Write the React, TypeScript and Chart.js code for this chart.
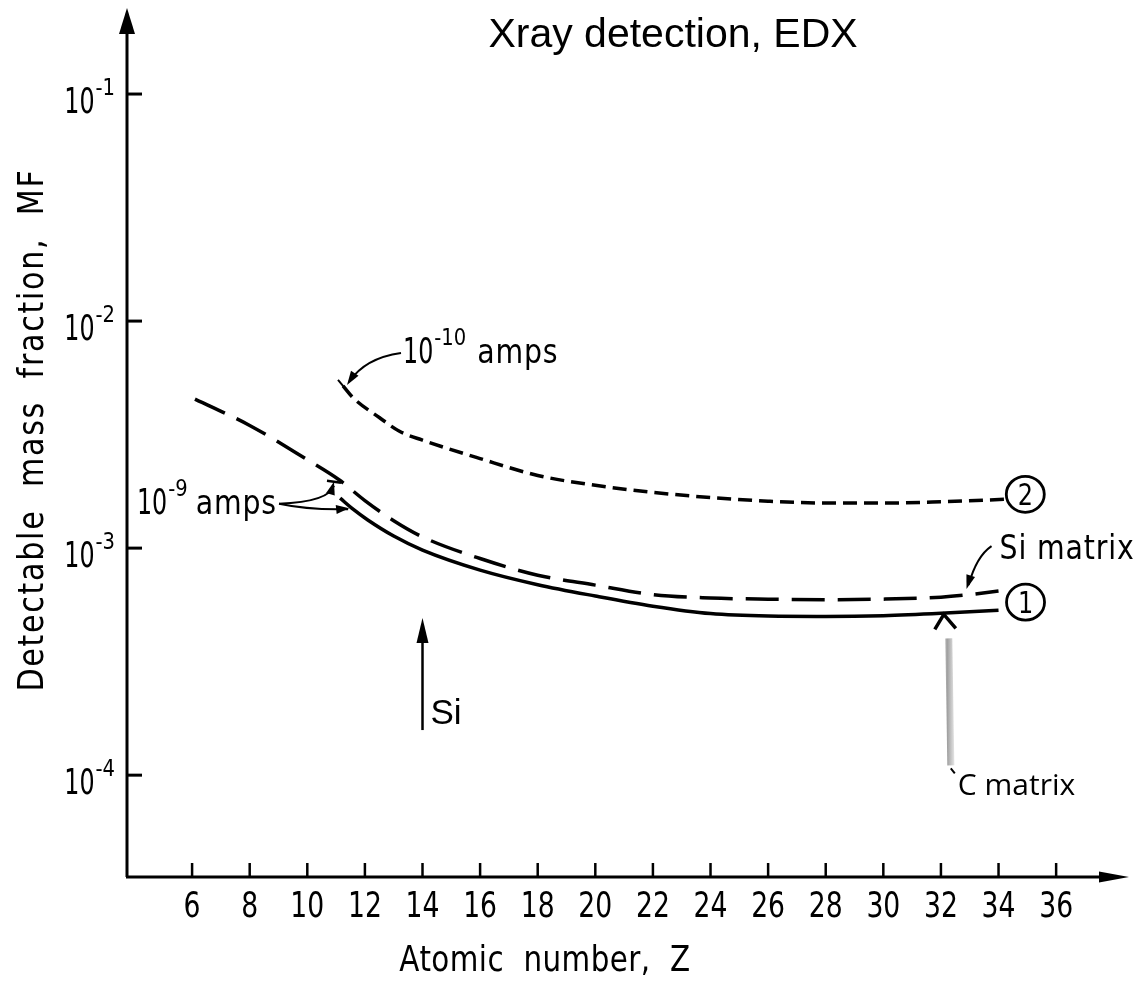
import React, { useEffect, useRef } from "react";
import { Chart, registerables } from "chart.js";

Chart.register(...registerables);

// ---- axis ticks ----
const xTickValues = [6, 8, 10, 12, 14, 16, 18, 20, 22, 24, 26, 28, 30, 32, 34, 36];
const yTickValues = [1e-1, 1e-2, 1e-3, 1e-4];
const yTickExponents = ["-1", "-2", "-3", "-4"];

// ---- curve 1 (dashed): Si matrix, 1e-9 amps ----
const siMatrixZ = [6.1, 8, 10, 11.1, 12, 13, 14, 16, 18, 20, 22, 24, 26, 28, 30, 32, 33, 34];
const siMatrixMF = [4.53e-3, 3.47e-3, 2.45e-3, 2.0e-3, 1.62e-3, 1.32e-3, 1.12e-3, 9.0e-4, 7.6e-4, 6.87e-4, 6.24e-4, 6.03e-4, 5.96e-4, 5.93e-4, 5.96e-4, 6.08e-4, 6.24e-4, 6.47e-4];

// ---- curve 1 (solid): C matrix, 1e-9 amps ----
const cMatrixZ = [11.14, 11.6, 12.1, 13, 14, 16, 18, 20, 22, 24, 26, 28, 30, 32, 34];
const cMatrixMF = [1.66e-3, 1.48e-3, 1.33e-3, 1.13e-3, 9.8e-4, 8.0e-4, 6.9e-4, 6.15e-4, 5.55e-4, 5.15e-4, 5.02e-4, 5.0e-4, 5.04e-4, 5.16e-4, 5.33e-4];

// ---- curve 2 (short dash): 1e-10 amps ----
const lowCurrentZ = [11.24, 11.6, 12.5, 13.2, 14, 16, 18, 20, 22, 24, 26, 28, 30, 32, 34.2];
const lowCurrentMF = [5.18e-3, 4.58e-3, 3.76e-3, 3.27e-3, 2.99e-3, 2.48e-3, 2.09e-3, 1.89e-3, 1.76e-3, 1.67e-3, 1.61e-3, 1.58e-3, 1.58e-3, 1.6e-3, 1.64e-3];

// ---- axis ranges ----
const X_MIN = 3.74;
const X_MAX = 38.53;
const Y_MIN = 3.56e-5;
const Y_MAX = 0.2393;

const SI_Z = 14;

const toPoints = (xs: number[], ys: number[]) => xs.map((x, i) => ({ x, y: ys[i] }));

const DIGIT_FONT = '"DejaVu Sans", sans-serif';
const WORD_FONT = '"DejaVu Sans", sans-serif';

function arrowHead(ctx: CanvasRenderingContext2D, tx: number, ty: number, fx: number, fy: number, len: number, hw: number) {
  const a = Math.atan2(ty - fy, tx - fx);
  const bx = tx - len * Math.cos(a);
  const by = ty - len * Math.sin(a);
  ctx.beginPath();
  ctx.moveTo(tx, ty);
  ctx.lineTo(bx + hw * Math.sin(a), by - hw * Math.cos(a));
  ctx.lineTo(bx - hw * Math.sin(a), by + hw * Math.cos(a));
  ctx.closePath();
  ctx.fill();
}

// text drawn with a horizontal squeeze (lettering look); returns width
function condText(ctx: CanvasRenderingContext2D, text: string, x: number, y: number, size: number, sx: number, align: "left" | "center" | "right", family = DIGIT_FONT, spacing = 0) {
  ctx.font = `${size}px ${family}`;
  (ctx as any).letterSpacing = `${spacing}px`;
  const w = ctx.measureText(text).width * sx;
  const x0 = align === "left" ? x : align === "center" ? x - w / 2 : x - w;
  ctx.save();
  ctx.textAlign = "left";
  ctx.translate(x0, y);
  ctx.scale(sx, 1);
  ctx.fillText(text, 0, 0);
  ctx.restore();
  (ctx as any).letterSpacing = "0px";
  return w;
}

function drawPow(ctx: CanvasRenderingContext2D, x: number, y: number, exp: string, size: number, align: "left" | "right") {
  ctx.font = `${size}px ${DIGIT_FONT}`;
  const baseW = ctx.measureText("10").width * 0.66;
  ctx.font = `${Math.round(size * 0.64)}px ${DIGIT_FONT}`;
  const expW = ctx.measureText(exp).width * 0.85;
  const startX = align === "left" ? x : x - baseW - expW - 1;
  condText(ctx, "10", startX, y, size, 0.66, "left");
  condText(ctx, exp, startX + baseW + 1, y - size * 0.5, Math.round(size * 0.64), 0.85, "left");
  return startX + baseW + 1 + expW;
}

const decorPlugin = {
  id: "decor",
  afterDraw(chart: any) {
    const ctx: CanvasRenderingContext2D = chart.ctx;
    const xs = chart.scales.x;
    const ys = chart.scales.y;
    const { left, right, top, bottom } = chart.chartArea;
    const P = (x: number, y: number) => [xs.getPixelForValue(x), ys.getPixelForValue(y)];

    ctx.save();
    ctx.fillStyle = "#000";
    ctx.strokeStyle = "#000";
    ctx.lineCap = "butt";
    ctx.textBaseline = "alphabetic";

    // axes
    ctx.lineWidth = 3;
    ctx.beginPath();
    ctx.moveTo(left, bottom);
    ctx.lineTo(left, top + 20);
    ctx.moveTo(left - 1, bottom);
    ctx.lineTo(right - 20, bottom);
    ctx.stroke();
    arrowHead(ctx, left, top, left, top + 40, 26, 8);
    arrowHead(ctx, right, bottom, right - 40, bottom, 30, 5.5);

    // x ticks + labels
    ctx.lineWidth = 2.5;
    xTickValues.forEach((v) => {
      const px = xs.getPixelForValue(v);
      ctx.beginPath();
      ctx.moveTo(px, bottom);
      ctx.lineTo(px, bottom - 14);
      ctx.stroke();
      condText(ctx, String(v), px, bottom + 40, 36, 0.74, "center");
    });

    // y ticks + labels
    ctx.lineWidth = 3;
    yTickValues.forEach((v, i) => {
      const py = ys.getPixelForValue(v);
      ctx.beginPath();
      ctx.moveTo(left, py);
      ctx.lineTo(left + 15, py);
      ctx.stroke();
      drawPow(ctx, 115, py + 19, yTickExponents[i], 36, "right");
    });

    // axis titles
    condText(ctx, "Atomic  number,  Z", 545, 971, 35, 0.84, "center", WORD_FONT, 0.5);
    ctx.save();
    ctx.translate(43, 430);
    ctx.rotate(-Math.PI / 2);
    condText(ctx, "Detectable  mass  fraction,  MF", 0, 0, 35, 0.86, "center", WORD_FONT, 2);
    ctx.restore();

    // chart title
    ctx.font = `41px "Liberation Sans", Arial, sans-serif`;
    ctx.textAlign = "center";
    ctx.fillText("Xray detection, EDX", 673, 47);

    // ---- 10^-10 amps annotation ----
    const [sx, sy] = P(lowCurrentZ[0], lowCurrentMF[0]);
    ctx.lineWidth = 2;
    ctx.beginPath();
    ctx.moveTo(sx - 5, sy - 6);
    ctx.lineTo(sx + 5, sy + 6);
    ctx.stroke();
    ctx.beginPath();
    ctx.moveTo(sx + 58, sy - 33);
    ctx.quadraticCurveTo(sx + 22, sy - 28, sx + 6, sy - 4);
    ctx.stroke();
    arrowHead(ctx, sx + 4, sy - 1, sx + 14, sy - 16, 14, 4.5);
    const e1 = drawPow(ctx, sx + 60, sy - 23, "-10", 36, "left");
    condText(ctx, "amps", e1 + 11, sy - 23, 33, 0.86, "left", WORD_FONT, 1);

    // ---- 10^-9 amps annotation ----
    const [dx, dy] = P(siMatrixZ[3], siMatrixMF[3]);
    const [cx0, cy0] = P(cMatrixZ[0], cMatrixMF[0]);
    const e2 = drawPow(ctx, 137, dy + 34, "-9", 36, "left");
    const aw = condText(ctx, "amps", e2 + 8, dy + 34, 33, 0.86, "left", WORD_FONT, 1);
    const lx = e2 + 8 + aw + 2;
    const ly = dy + 24;
    ctx.lineWidth = 2;
    ctx.beginPath();
    ctx.moveTo(lx, ly);
    ctx.quadraticCurveTo(dx - 10, ly - 2, dx - 5, dy + 6);
    ctx.stroke();
    arrowHead(ctx, dx - 5, dy + 2, dx - 9, dy + 16, 13, 4.5);
    ctx.lineWidth = 2.5;
    ctx.beginPath();
    ctx.moveTo(dx - 12, dy + 1);
    ctx.lineTo(dx + 2, dy + 3);
    ctx.stroke();
    ctx.lineWidth = 2;
    ctx.beginPath();
    ctx.moveTo(lx, ly);
    ctx.quadraticCurveTo(lx + 30, cy0 + 12, cx0 + 8, cy0 + 11);
    ctx.stroke();
    arrowHead(ctx, cx0 + 9, cy0 + 10, cx0 - 10, cy0 + 12, 13, 4.5);

    // ---- circled labels ----
    const [l2x, l2y] = P(lowCurrentZ[lowCurrentZ.length - 1], lowCurrentMF[lowCurrentMF.length - 1]);
    const [l1x, l1y] = P(cMatrixZ[cMatrixZ.length - 1], cMatrixMF[cMatrixMF.length - 1]);
    ctx.lineWidth = 2.8;
    const circled = (x: number, y: number, t: string) => {
      ctx.beginPath();
      ctx.ellipse(x, y, 19, 18, 0, 0, Math.PI * 2);
      ctx.stroke();
      condText(ctx, t, x, y + 11, 30, 0.8, "center");
    };
    circled(l2x + 21, l2y - 5, "2");
    circled(l1x + 27, l1y - 8, "1");

    // ---- Si matrix label ----
    const [smx, smy] = P(siMatrixZ[siMatrixZ.length - 1], siMatrixMF[siMatrixMF.length - 1]);
    condText(ctx, "Si matrix", smx + 1, smy - 32, 33, 0.86, "left", WORD_FONT, 1);
    ctx.lineWidth = 2;
    ctx.beginPath();
    ctx.moveTo(smx - 7, smy - 45);
    ctx.quadraticCurveTo(smx - 22, smy - 35, smx - 30, smy - 6);
    ctx.stroke();
    arrowHead(ctx, smx - 32, smy - 2, smx - 27, smy - 18, 14, 4.5);

    // ---- C matrix pointer ----
    const [ptx, pty] = P(32.1, cMatrixMF[13]);
    const grad = ctx.createLinearGradient(ptx - 3, 0, ptx + 10, 0);
    grad.addColorStop(0, "#e0e0e0");
    grad.addColorStop(0.5, "#a0a0a0");
    grad.addColorStop(1, "#e0e0e0");
    ctx.strokeStyle = grad;
    ctx.lineWidth = 7;
    ctx.beginPath();
    ctx.moveTo(ptx + 5, pty + 25);
    ctx.lineTo(ptx + 7, pty + 152);
    ctx.stroke();
    ctx.strokeStyle = "#000";
    ctx.lineWidth = 3.5;
    ctx.lineJoin = "miter";
    ctx.beginPath();
    ctx.moveTo(ptx - 9, pty + 16);
    ctx.lineTo(ptx, pty + 1);
    ctx.lineTo(ptx + 12, pty + 15);
    ctx.stroke();
    ctx.lineWidth = 2;
    ctx.beginPath();
    ctx.moveTo(ptx + 7, pty + 155);
    ctx.lineTo(ptx + 11, pty + 160);
    ctx.stroke();
    ctx.font = `30px "Open Sans", "Noto Sans", sans-serif`;
    ctx.textAlign = "left";
    ctx.fillText("C matrix", ptx + 14, pty + 182);

    // ---- Si arrow ----
    const [six, siy0] = P(SI_Z, 1.58e-4);
    const [, siy1] = P(SI_Z, 4.92e-4);
    ctx.lineWidth = 2.5;
    ctx.beginPath();
    ctx.moveTo(six, siy0);
    ctx.lineTo(six, siy1 + 15);
    ctx.stroke();
    arrowHead(ctx, six, siy1, six, siy1 + 30, 25, 6);
    ctx.font = `35px "Liberation Sans", Arial, sans-serif`;
    ctx.textAlign = "left";
    ctx.fillText("Si", six + 8, siy0 - 6);

    ctx.restore();
  },
};

export default function App() {
  const canvasRef = useRef<HTMLCanvasElement | null>(null);

  useEffect(() => {
    const canvas = canvasRef.current;
    if (!canvas) return;
    const chart = new Chart(canvas, {
      type: "scatter",
      data: {
        datasets: [
          {
            label: "Si matrix, 1e-9 A",
            data: toPoints(siMatrixZ, siMatrixMF),
            showLine: true,
            borderColor: "#000",
            borderWidth: 3.5,
            borderDash: [33, 13],
            pointRadius: 0,
            cubicInterpolationMode: "monotone",
          },
          {
            label: "C matrix, 1e-9 A",
            data: toPoints(cMatrixZ, cMatrixMF),
            showLine: true,
            borderColor: "#000",
            borderWidth: 3.5,
            pointRadius: 0,
            cubicInterpolationMode: "monotone",
          },
          {
            label: "1e-10 A",
            data: toPoints(lowCurrentZ, lowCurrentMF),
            showLine: true,
            borderColor: "#000",
            borderWidth: 3.5,
            borderDash: [14, 7],
            pointRadius: 0,
            cubicInterpolationMode: "monotone",
          },
        ],
      },
      options: {
        responsive: false,
        animation: false,
        devicePixelRatio: 1,
        layout: { padding: { left: 127, right: 7, top: 8, bottom: 105 } },
        plugins: { legend: { display: false }, tooltip: { enabled: false } },
        scales: {
          x: { type: "linear", min: X_MIN, max: X_MAX, bounds: "data", display: false },
          y: { type: "logarithmic", min: Y_MIN, max: Y_MAX, bounds: "data", display: false },
        },
      },
      plugins: [decorPlugin],
    } as any);
    return () => chart.destroy();
  }, []);

  return (
    <div style={{ position: "absolute", left: 0, top: 0, width: 1136, height: 982, background: "#fff" }}>
      <canvas ref={canvasRef} width={1136} height={982} style={{ width: 1136, height: 982, display: "block" }} />
    </div>
  );
}
